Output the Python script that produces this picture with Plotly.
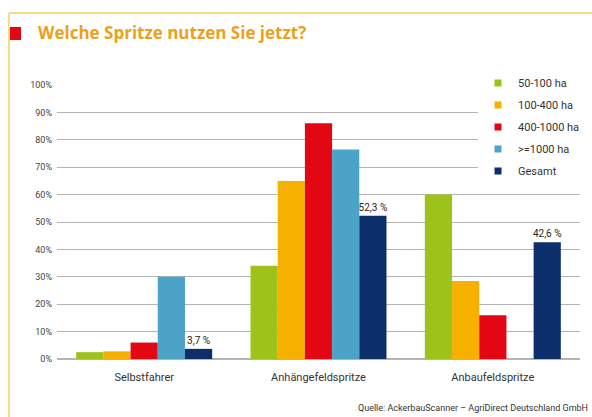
import plotly.graph_objects as go

categories = ["Selbstfahrer", "Anhängefeldspritze", "Anbaufeldspritze"]
series_names = ["50-100 ha", "100-400 ha", "400-1000 ha", ">=1000 ha", "Gesamt"]
v_50_100 = [2.5, 34, 60]
v_100_400 = [2.8, 65, 28.5]
v_400_1000 = [6, 86, 16]
v_1000 = [30, 76.5, 0]
v_gesamt = [3.7, 52.3, 42.6]
gesamt_labels = ["3,7 %", "52,3 %", "42,6 %"]
colors = ["#9dc31a", "#f6b100", "#e30613", "#4ba3c8", "#0c2f6b"]
y_ticks = [0, 10, 20, 30, 40, 50, 60, 70, 80, 90, 100]
y_ticktext = [f"{v}%" for v in y_ticks]

FONT = "Open Sans, sans-serif"
TFONT = "Roboto, Open Sans, sans-serif"

fig = go.Figure()
all_vals = [v_50_100, v_100_400, v_400_1000, v_1000, v_gesamt]
for i, (name, vals) in enumerate(zip(series_names, all_vals)):
    kw = {}
    if name == "Gesamt":
        kw = dict(text=gesamt_labels, textposition="outside", texttemplate="%{text}",
                  textfont=dict(family=TFONT, size=10, color="#222222"),
                  cliponaxis=False, constraintext="none")
    fig.add_trace(go.Bar(x=categories, y=vals, name=name, marker_color=colors[i],
                         marker_line_width=0, showlegend=False, **kw))
# legend entries (small square markers)
for i, name in enumerate(series_names):
    fig.add_trace(go.Scatter(x=[None], y=[None], mode="markers", name=name,
                             legendgroup=f"g{i}",
                             marker=dict(symbol="square", size=7, color=colors[i])))

fig.update_layout(
    width=592, height=417,
    paper_bgcolor="white", plot_bgcolor="white",
    margin=dict(l=57, r=12, t=85, b=58, autoexpand=False),
    barmode="group", bargap=0.22, bargroupgap=0,
    font=dict(family=FONT, color="#333333"),
    showlegend=True,
    legend=dict(x=0.805, xanchor="left", xref="paper", y=1.06, yanchor="top", bgcolor="white",
                font=dict(family=TFONT, size=11, color="#333333"),
                itemwidth=30, tracegroupgap=3),
    xaxis=dict(range=[-0.5, 2.5], showline=False, ticks="", automargin=False,
               ticklabelstandoff=10,
               tickfont=dict(family=TFONT, size=11, color="#333333")),
    yaxis=dict(range=[0, 100], tickvals=y_ticks, ticktext=y_ticktext, showline=False,
               automargin=False,
               gridcolor="#b4b4b4", gridwidth=1, zeroline=True, zerolinecolor="#b4b4b4",
               tickfont=dict(family=TFONT, size=9, color="#444444"), ticklabelstandoff=4),
    shapes=[
        dict(type="line", xref="paper", yref="paper", x0=-0.0918, x1=1.1, y0=1.263, y1=1.263,
             line=dict(color="#f3de86", width=2)),
        dict(type="line", xref="paper", yref="paper", x0=-0.0918, x1=-0.0918, y0=1.263, y1=-0.3,
             line=dict(color="#f3de86", width=2)),
        dict(type="rect", xref="paper", yref="paper", x0=-0.0899, x1=-0.0688, y0=1.1642, y1=1.2117,
             fillcolor="#e30613", line_width=0),
    ],
    annotations=[
        dict(text="<b>Welche Spritze nutzen Sie jetzt?</b>", xref="paper", yref="paper",
             x=-0.0402, y=1.19, xanchor="left", yanchor="middle", showarrow=False,
             font=dict(family=FONT, size=17, color="#eaa21a")),
        dict(text="Quelle: AckerbauScanner – AgriDirect Deutschland GmbH", xref="paper", yref="paper",
             x=1.02, y=-0.179, xanchor="right", yanchor="middle", showarrow=False,
             font=dict(family=TFONT, size=9, color="#333333")),
    ],
)
fig.write_html("out.html", config={"displayModeBar": False},
               post_script="document.body.style.margin='0px';document.body.style.overflow='hidden';")
